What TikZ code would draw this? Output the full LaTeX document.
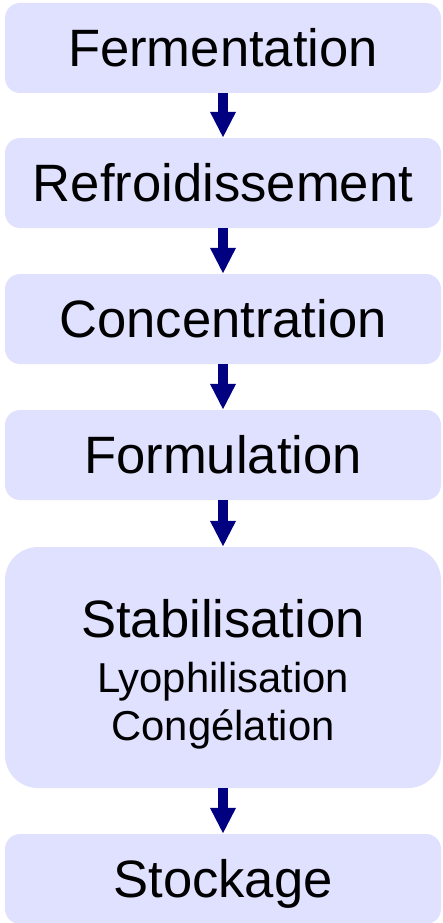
\documentclass[tikz,border=0pt]{standalone}
\usepackage{fontspec}
\setmainfont{Liberation Sans}
\usetikzlibrary{arrows.meta}
\definecolor{stagefill}{HTML}{E0E0FF}
\definecolor{flowarrow}{HTML}{000080}
\tikzset{
  stage/.style={fill=stagefill, rounded corners=15pt, minimum width=436pt,
    minimum height=90pt, inner sep=0pt, text height=37.7pt, text depth=0pt,
    font=\fontsize{52.6}{60}\selectfont},
  subline/.style={anchor=base, inner sep=0pt, font=\fontsize{41.8}{48}\selectfont},
  flow/.style={draw=flowarrow, line width=9.5pt,
    -{Triangle[width=24pt,length=26pt]}}
}
\begin{document}
\begin{tikzpicture}[x=1pt,y=1pt]
  \useasboundingbox (0,0) rectangle (442,-923);
  \node[stage] (ferm) at (223,-48) {Fermentation};
  \node[stage] (refr) at (223,-183) {Refroidissement};
  \node[stage] (conc) at (223,-319) {Concentration};
  \node[stage] (form) at (223,-455) {Formulation};
  \node[stage, rounded corners=33pt, minimum height=241pt] (stab) at (223,-667.5) {};
  \node[stage, anchor=base, text height=, inner sep=0pt] (stabtitle) at (223,-637) {Stabilisation};
  \node[subline] (lyo) at (223,-692) {Lyophilisation};
  \node[subline] (cong) at (223,-740) {Congélation};
  \node[stage] (stock) at (223,-879) {Stockage};
  \draw[flow]
    (ferm)
    --
    (refr);
  \draw[flow]
    (refr)
    --
    (conc);
  \draw[flow]
    (conc)
    --
    (form);
  \draw[flow]
    (form)
    --
    (stab);
  \draw[flow]
    (stab)
    --
    (stock);
\end{tikzpicture}
\end{document}
